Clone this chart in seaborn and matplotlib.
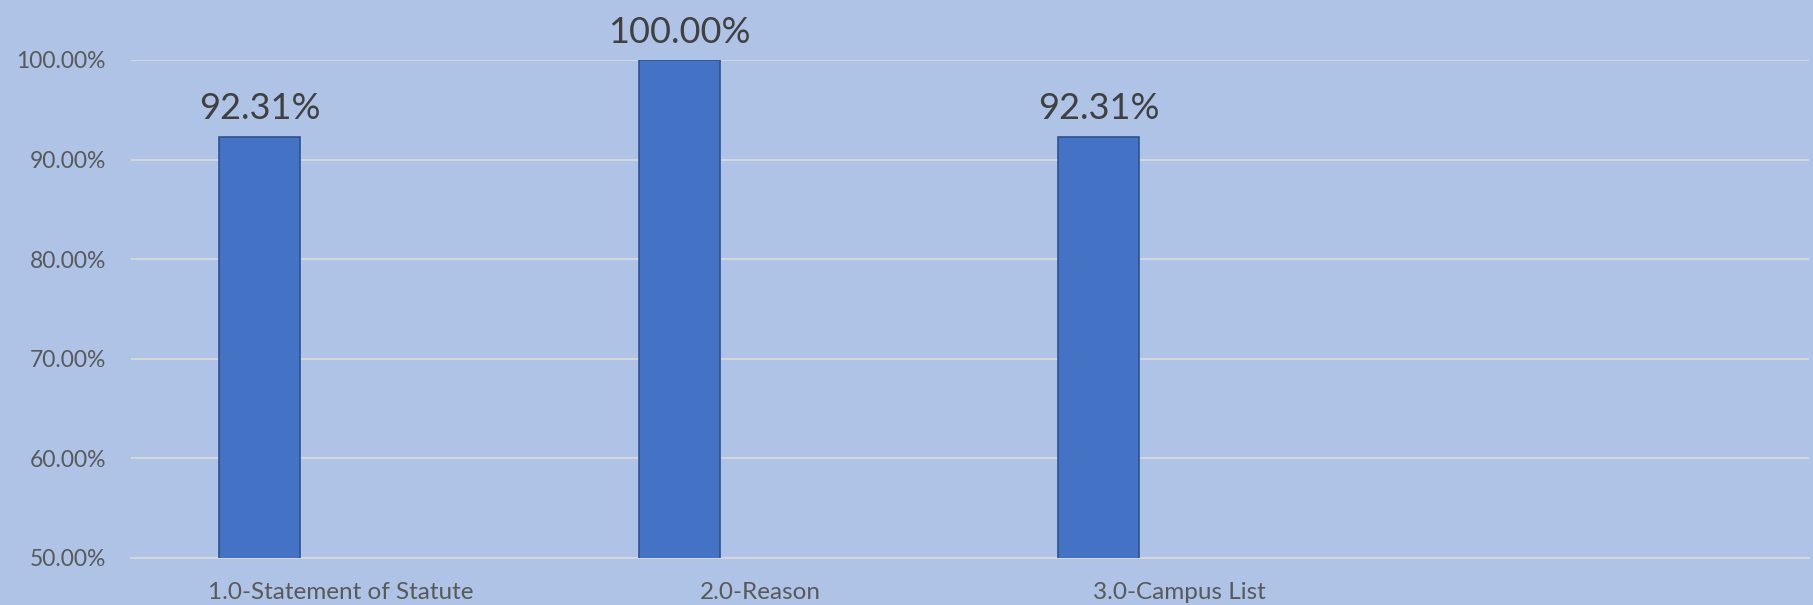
import pandas as pd
import matplotlib
matplotlib.use("Agg")
import matplotlib.pyplot as plt
import seaborn as sns
import numpy as np
from matplotlib.ticker import PercentFormatter, FixedLocator

# data
categories = ['1.0-Statement of Statute', '2.0-Reason', '3.0-Campus List', '']
series = ['Series1', 'Series2', 'Series3']  # only the first one holds values
values_s1 = [0.9231, 1.0, 0.9231, np.nan]
values_s2 = [np.nan, np.nan, np.nan, np.nan]
values_s3 = [np.nan, np.nan, np.nan, np.nan]
labels = ['92.31%', '100.00%', '92.31%', '']
y_ticks = [0.5, 0.6, 0.7, 0.8, 0.9, 1.0]

df = pd.DataFrame({
    'category': categories * 3,
    'series': np.repeat(series, len(categories)),
    'value': values_s1 + values_s2 + values_s3,
})

sns.set_theme(style="white")
plt.rcParams['font.family'] = ['Lato', 'DejaVu Sans']

bg = '#AEC3E6'
fig = plt.figure(figsize=(18.13, 6.05), dpi=100)
fig.patch.set_facecolor(bg)
ax = fig.add_axes([131 / 1813, 47 / 605, (1809 - 131) / 1813, (558 - 60) / 605])
ax.set_facecolor(bg)

sns.barplot(data=df, x='category', y='value', hue='series', order=categories, hue_order=series,
            palette=['#4472C4'] * 3, edgecolor='#2F528F', linewidth=1.2, width=0.58,
            saturation=1, legend=False, ax=ax, zorder=3)

ax.set_ylim(0.5, 1.0)
ax.set_xlim(-0.5, len(categories) - 0.5)
ax.yaxis.set_major_locator(FixedLocator(y_ticks))
ax.yaxis.set_major_formatter(PercentFormatter(1.0, decimals=2))
ax.yaxis.grid(True, color='#D9D9D9', linewidth=1.3, zorder=0)
ax.set_axisbelow(True)

for s in ['top', 'right', 'left']:
    ax.spines[s].set_visible(False)
ax.spines['bottom'].set_color('#D9D9D9')
ax.spines['bottom'].set_linewidth(1.3)

ax.tick_params(axis='y', length=0, pad=18, labelsize=16.5, labelcolor='#595959')
ax.tick_params(axis='x', which='major', length=0, pad=17, labelsize=17.5, labelcolor='#595959')
ax.set_xticks(range(len(categories)))
ax.set_xticklabels(categories)
ax.xaxis.set_minor_locator(FixedLocator(np.arange(-0.5, len(categories), 1.0)))
ax.tick_params(axis='x', which='minor', length=7, width=1.3, color='#D9D9D9', direction='out')
ax.set_xlabel('')
ax.set_ylabel('')

# labels on the first series' bars
s1_bars = [p for p in ax.patches if not np.isnan(p.get_height())][:len(categories)]
for p, lab in zip(s1_bars, labels):
    if lab:
        ax.annotate(lab, (p.get_x() + p.get_width() / 2, p.get_height()), xytext=(0, 8),
                    textcoords='offset points', ha='center', va='bottom', fontsize=26,
                    color='#404040', annotation_clip=False)

fig.savefig('out.png', dpi=100, facecolor=bg)
